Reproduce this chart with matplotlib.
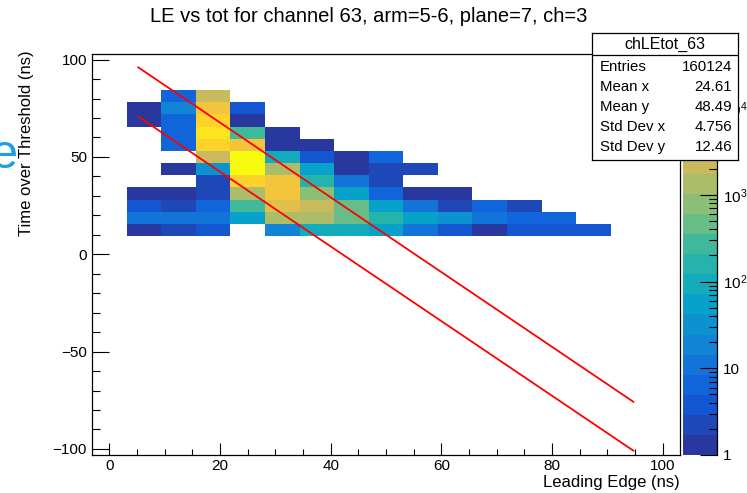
import numpy as np
import matplotlib
matplotlib.use("Agg")
import matplotlib.pyplot as plt
from matplotlib.colors import ListedColormap, LinearSegmentedColormap
from matplotlib.ticker import MultipleLocator, FixedLocator, FixedFormatter, NullFormatter

plt.rcParams['font.family'] = ['Liberation Sans', 'DejaVu Sans']
plt.rcParams['mathtext.fontset'] = 'custom'
plt.rcParams['mathtext.rm'] = 'Liberation Sans'
plt.rcParams['mathtext.it'] = 'Liberation Sans:italic'

# ---------------- data ----------------
title = "LE vs tot for channel 63, arm=5-6, plane=7, ch=3"
x_title = "Leading Edge (ns)"
y_title = "Time over Threshold (ns)"

# histogram binning (17 x bins, 33 y bins, width 6.25)
x_range = (-3.125, 103.125)
y_range = (-103.125, 103.125)
bin_w = 6.25

x_centers = [6.25, 12.5, 18.75, 25.0, 31.25, 37.5, 43.75, 50.0,
             56.25, 62.5, 68.75, 75.0, 81.25, 87.5]
y_centers = [81.25, 75.0, 68.75, 62.5, 56.25, 50.0, 43.75, 37.5,
             31.25, 25.0, 18.75, 12.5]

# bin contents: one row per y centre (top to bottom), one column per x centre
counts = [
    [0, 7, 1800, 0, 0, 0, 0, 0, 0, 0, 0, 0, 0, 0],
    [1, 15, 5500, 3, 0, 0, 0, 0, 0, 0, 0, 0, 0, 0],
    [1, 7, 11000, 1, 0, 0, 0, 0, 0, 0, 0, 0, 0, 0],
    [0, 5, 19000, 330, 1, 0, 0, 0, 0, 0, 0, 0, 0, 0],
    [0, 5, 10000, 6500, 1, 1, 0, 0, 0, 0, 0, 0, 0, 0],
    [0, 0, 1800, 40000, 110, 4, 1, 5, 0, 0, 0, 0, 0, 0],
    [0, 1, 28, 30000, 1700, 45, 1, 2, 2, 0, 0, 0, 0, 0],
    [0, 0, 2, 9000, 6500, 200, 12, 2, 0, 0, 0, 0, 0, 0],
    [1, 1, 2, 1700, 6500, 900, 60, 7, 1, 1, 0, 0, 0, 0],
    [4, 2, 7, 330, 4800, 2800, 420, 45, 13, 2, 7, 2, 0, 0],
    [10, 10, 10, 45, 1100, 1700, 500, 200, 45, 40, 12, 7, 7, 0],
    [1, 2, 4, 0, 24, 110, 110, 45, 12, 3, 1, 4, 3, 3],
]

# two red reference lines
line_x = [5.24, 94.7]
upper_line_y = [96.0, -75.8]
lower_line_y = [70.7, -100.9]

# colour scale (log z)
z_min, z_log_max, n_levels = 1.0, 4.63, 20
cbar_ticks = [1, 10, 100, 1000, 10000]
cbar_labels = ['1', '10', r'$10^{2}$', r'$10^{3}$', r'$10^{4}$']

# statistics box
stats_name = "chLEtot_63"
stats_rows = [("Entries", "160124"), ("Mean x", "24.61"), ("Mean y", "48.49"),
              ("Std Dev x", "4.756"), ("Std Dev y", "12.46")]

# ---------------- figure ----------------
W, H = 747, 493
fig = plt.figure(figsize=(W / 100, H / 100), dpi=100)

def fx(px):
    return px / W

def fy(py):
    return 1 - py / H

ax_l, ax_r, ax_t, ax_b = 92, 680, 53.5, 455
ax = fig.add_axes([fx(ax_l), fy(ax_b), fx(ax_r - ax_l), (ax_b - ax_t) / H])

# bird-like palette
stops = [0.0, 0.125, 0.25, 0.375, 0.5, 0.625, 0.75, 0.875, 1.0]
red = [0.16, 0.0592, 0.0780, 0.0232, 0.1802, 0.5301, 0.8186, 0.9956, 0.9764]
green = [0.22, 0.3599, 0.5041, 0.6419, 0.7178, 0.7492, 0.7328, 0.7862, 0.9832]
blue = [0.62, 0.8684, 0.8385, 0.7914, 0.6425, 0.4662, 0.3499, 0.1968, 0.0539]
bird = LinearSegmentedColormap.from_list(
    "bird", [(s, (r, g, b)) for s, r, g, b in zip(stops, red, green, blue)])
level_cmap = ListedColormap([bird(i / (n_levels - 1)) for i in range(n_levels)])
bounds_log = np.linspace(np.log10(z_min), z_log_max, n_levels + 1)

# fill histogram
xs, ys, ws = [], [], []
for yi, row in zip(y_centers, counts):
    for xi, c in zip(x_centers, row):
        xs.append(xi); ys.append(yi); ws.append(c)
x_edges = np.arange(x_range[0], x_range[1] + 1e-9, bin_w)
y_edges = np.arange(y_range[0], y_range[1] + 1e-9, bin_w)
Hh, _, _ = np.histogram2d(xs, ys, bins=[x_edges, y_edges], weights=ws)
Hh = Hh.T
level = np.full(Hh.shape, np.nan)
pos = Hh > 0
level[pos] = np.clip(np.floor((np.log10(Hh[pos]) - bounds_log[0]) /
                              (bounds_log[1] - bounds_log[0])), 0, n_levels - 1)
level = np.ma.masked_invalid(level)
ax.pcolormesh(x_edges, y_edges, level, cmap=level_cmap, vmin=-0.5,
              vmax=n_levels - 0.5, shading='flat', edgecolors='none',
              antialiased=False, zorder=1)

ax.plot(line_x, upper_line_y, color='#ff0000', lw=1.3, zorder=3)
ax.plot(line_x, lower_line_y, color='#ff0000', lw=1.3, zorder=3)

ax.set_xlim(*x_range)
ax.set_ylim(*y_range)
ax.xaxis.set_major_locator(MultipleLocator(20))
ax.xaxis.set_minor_locator(MultipleLocator(5))
ax.yaxis.set_major_locator(MultipleLocator(50))
ax.yaxis.set_minor_locator(MultipleLocator(10))
ax.tick_params(axis='x', which='major', direction='in', length=8.6, width=0.8,
               labelsize=11, pad=3.0, top=False)
ax.tick_params(axis='x', which='minor', direction='in', length=4.3, width=0.8, top=False)
ax.tick_params(axis='y', which='major', direction='in', length=12.2, width=0.8,
               labelsize=11, pad=3.6, right=False)
ax.tick_params(axis='y', which='minor', direction='in', length=6.0, width=0.8, right=False)
for sp in ax.spines.values():
    sp.set_linewidth(0.9)
    sp.set_color('black')
ax.set_facecolor('white')

# colour bar
cb_l, cb_r = 683, 717
cax = fig.add_axes([fx(cb_l), fy(ax_b), fx(cb_r - cb_l), (ax_b - ax_t) / H])
bounds = 10 ** bounds_log
cax.pcolormesh([0, 1], bounds, np.arange(n_levels).reshape(-1, 1),
               cmap=level_cmap, vmin=-0.5, vmax=n_levels - 0.5,
               shading='flat', edgecolors='none', antialiased=False)
cax.set_yscale('log')
cax.set_ylim(bounds[0], bounds[-1])
cax.set_xlim(0, 1)
cax.set_xticks([])
cax.yaxis.tick_right()
cax.yaxis.set_major_locator(FixedLocator(cbar_ticks))
cax.yaxis.set_major_formatter(FixedFormatter(cbar_labels))
minor = [m * 10 ** d for d in range(0, 5) for m in range(2, 10)
         if m * 10 ** d < bounds[-1]]
cax.yaxis.set_minor_locator(FixedLocator(minor))
cax.yaxis.set_minor_formatter(NullFormatter())
cax.tick_params(axis='y', which='major', direction='in', length=12.2, width=0.8,
                labelsize=11, pad=4)
cax.tick_params(axis='y', which='minor', direction='in', length=5.8, width=0.8)
for sp in cax.spines.values():
    sp.set_visible(False)
cax.spines['right'].set_visible(True)
cax.spines['right'].set_linewidth(0.9)

# titles
fig.text(fx(369), fy(17), title, ha='center', va='center', fontsize=14.5)
fig.text(fx(680), fy(482), x_title, ha='right', va='center', fontsize=12)
fig.text(fx(27), fy(50), y_title, ha='center', va='top', rotation=90, fontsize=12)
fig.text(fx(4.5), fy(155), "e", ha='center', va='center', fontsize=35,
         color='#1e9fe0')

# statistics box
sb_l, sb_t, sb_r, sb_b = 592, 33, 738, 160
sax = fig.add_axes([fx(sb_l), fy(sb_b), fx(sb_r - sb_l), (sb_b - sb_t) / H])
sax.set_zorder(10)
sax.set_xlim(0, sb_r - sb_l)
sax.set_ylim(sb_b - sb_t, 0)
sax.set_xticks([]); sax.set_yticks([])
sax.set_facecolor('white')
for sp in sax.spines.values():
    sp.set_linewidth(0.9)
    sp.set_color('black')
sax.axhline(55 - sb_t, color='black', lw=0.9)
sax.text((sb_r - sb_l) / 2, 44 - sb_t, stats_name, ha='center', va='center',
         fontsize=11.5)
for i, (k, v) in enumerate(stats_rows):
    yy = 67 + 20 * i - sb_t
    sax.text(8, yy, k, ha='left', va='center', fontsize=10.8)
    sax.text(sb_r - sb_l - 6, yy, v, ha='right', va='center', fontsize=10.8)

fig.savefig("out.png", dpi=100)
